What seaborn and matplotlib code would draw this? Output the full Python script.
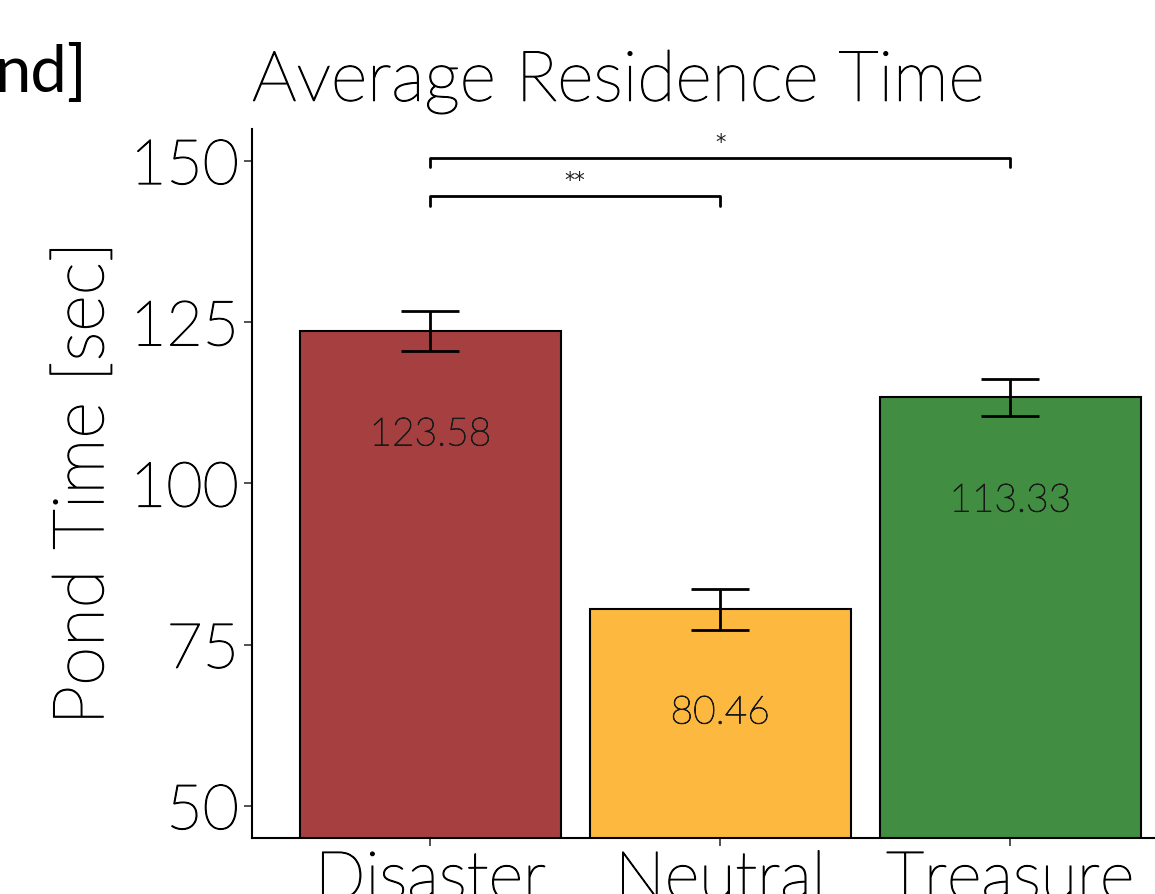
import matplotlib
matplotlib.use("Agg")
import matplotlib.pyplot as plt
import matplotlib.patheffects as pe
import seaborn as sns
import pandas as pd

sns.set_theme(style="white")
plt.rcParams['font.family'] = ['Lato', 'DejaVu Sans']
plt.rcParams['text.color'] = 'black'
plt.rcParams['axes.labelcolor'] = 'black'
plt.rcParams['xtick.color'] = 'black'
plt.rcParams['ytick.color'] = 'black'

# data
conditions = ["Disaster", "Neutral", "Treasure"]
mean_time = [123.58, 80.46, 113.33]
se_time = [3.1, 3.2, 2.9]
bar_colors = ["#A64040", "#FDB93F", "#418D41"]
# significance brackets: (left index, right index, height, label)
brackets = [(0, 1, 144.5, "**"), (0, 2, 150.5, "*")]

df = pd.DataFrame({"condition": conditions, "time": mean_time, "se": se_time})

# thicken the light font a bit, closer to the reference's weight
thick = [pe.withStroke(linewidth=0.9, foreground="black")]

fig = plt.figure(figsize=(11.55, 8.95), dpi=100)
ax = fig.add_axes([252 / 1155, 56 / 895, 932 / 1155, 709.5 / 895])

sns.barplot(data=df, x="condition", y="time", hue="condition",
            palette=bar_colors, saturation=1, width=0.9, edgecolor="black",
            linewidth=1.5, legend=False, ax=ax)
ax.errorbar(range(len(conditions)), mean_time, yerr=se_time, fmt="none",
            ecolor="black", elinewidth=2, capsize=21, capthick=2)

# value labels inside the bars
for i, v in enumerate(mean_time):
    ax.text(i, v - 16, f"{v:.2f}", ha="center", va="center",
            fontsize=28, color="#1a1a1a", fontweight="light",
            path_effects=[pe.withStroke(linewidth=0.7, foreground="#1a1a1a")])

# significance brackets
for a, b, h, lab in brackets:
    ax.plot([a, a, b, b], [h - 1.5, h, h, h - 1.5], color="black", lw=2,
            clip_on=False)
    ax.text((a + b) / 2, h + 0.9, lab, ha="center", va="bottom",
            fontsize=15, color="#222222", family="DejaVu Sans")

ax.set_xlim(-0.615, 2.6)
ax.set_ylim(45, 155)
ax.set_yticks([50, 75, 100, 125, 150])
ax.set_xlabel("")
ax.set_ylabel("Pond Time [sec]", fontsize=51, fontweight="light", labelpad=10,
              path_effects=thick)
ax.set_title("Average Residence Time", loc="left", fontsize=50.5,
             fontweight="light", pad=20, path_effects=thick)
ax.tick_params(axis="both", length=6, width=1.2, color="#333333",
               bottom=True, left=True)
ax.tick_params(axis="y", labelsize=45)
ax.tick_params(axis="x", labelsize=48)
for t in ax.get_xticklabels() + ax.get_yticklabels():
    t.set_fontweight("light")
    t.set_path_effects(thick)
sns.despine(ax=ax)
for s in ["left", "bottom"]:
    ax.spines[s].set_color("black")
    ax.spines[s].set_linewidth(1.5)

# cropped slide text at the top-left
fig.text(-0.005, 0.918, "nd]", fontsize=47, ha="left", va="center",
         color="black")

fig.savefig("out.png", dpi=100)
